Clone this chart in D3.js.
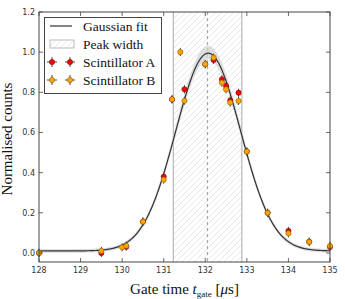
<!DOCTYPE html>
<html>
<head>
<meta charset="utf-8">
<script src="https://cdn.jsdelivr.net/npm/d3@7"></script>
<style>
  body { margin: 0; background: #fff; }
  svg { display: block; }
</style>
</head>
<body>
<script>
// data
var timesA = [128, 129.5, 130.1, 130.5, 131, 131.2, 131.5, 132, 132.2, 132.4, 132.5, 132.6, 132.8, 133, 133.5, 134, 134.5, 135];
var countsA = [0.0, 0.0, 0.031, 0.156, 0.38, 0.765, 0.815, 0.94, 0.961, 0.865, 0.832, 0.76, 0.798, 0.505, 0.2, 0.11, 0.056, 0.03];
var timesB = [128, 129.5, 130, 130.1, 130.5, 131, 131.2, 131.4, 131.5, 132, 132.2, 132.4, 132.5, 132.6, 132.8, 133, 133.5, 134, 134.5, 135];
var countsB = [0.0, 0.01, 0.028, 0.036, 0.156, 0.365, 0.765, 1.0, 0.758, 0.94, 0.973, 0.848, 0.815, 0.749, 0.757, 0.505, 0.2, 0.098, 0.055, 0.035];
var yErr = 0.02;
var xErr = 0.03;

// gaussian fit parameters
var fitAmp = 0.985, fitCentre = 132.07, fitSigma = 0.78, fitOffset = 0.01;
var peakEdges = [131.23, 132.88];
var peakCentre = 132.05;

var xTicks = [128, 129, 130, 131, 132, 133, 134, 135];
var yTicks = [0.0, 0.2, 0.4, 0.6, 0.8, 1.0, 1.2];

var W = 345, H = 299;
var pLeft = 39, pRight = 330, pTop = 12, pBottom = 262;

var svg = d3.select('body').append('svg')
  .attr('width', W)
  .attr('height', H);

var x = d3.scaleLinear().domain([128, 135]).range([pLeft, pRight]);
var y = d3.scaleLinear().domain([-0.045, 1.2]).range([pBottom, pTop]);

// hatch pattern for peak width
var defs = svg.append('defs');
var pat = defs.append('pattern')
  .attr('id', 'hatch')
  .attr('patternUnits', 'userSpaceOnUse')
  .attr('width', 6).attr('height', 6);
pat.append('path')
  .attr('d', 'M0,6 L6,0 M-1,1 L1,-1 M5,7 L7,5')
  .attr('stroke', '#e0e0e0')
  .attr('stroke-width', 0.8);

defs.append('clipPath').attr('id', 'clip')
  .append('rect')
  .attr('x', pLeft).attr('y', pTop)
  .attr('width', pRight - pLeft).attr('height', pBottom - pTop);

var plot = svg.append('g').attr('clip-path', 'url(#clip)');

// peak width region
plot.append('rect')
  .attr('x', x(peakEdges[0]))
  .attr('y', pTop)
  .attr('width', x(peakEdges[1]) - x(peakEdges[0]))
  .attr('height', pBottom - pTop)
  .attr('fill', 'url(#hatch)');
peakEdges.forEach(function (t) {
  plot.append('line')
    .attr('x1', x(t)).attr('x2', x(t))
    .attr('y1', pTop).attr('y2', pBottom)
    .attr('stroke', '#aaa')
    .attr('stroke-width', 1);
});
plot.append('line')
  .attr('x1', x(peakCentre)).attr('x2', x(peakCentre))
  .attr('y1', pTop).attr('y2', pBottom)
  .attr('stroke', '#999')
  .attr('stroke-width', 1)
  .attr('stroke-dasharray', '3,3');

// gaussian fit + band
function gauss(t) {
  return fitOffset + fitAmp * Math.exp(-Math.pow(t - fitCentre, 2) / (2 * fitSigma * fitSigma));
}
var fitTimes = d3.range(128, 135.001, 0.02);

var band = d3.area()
  .x(function (t) { return x(t); })
  .y0(function (t) { var g = gauss(t); return y(g - 0.009 - 0.022 * (g - fitOffset)); })
  .y1(function (t) { var g = gauss(t); return y(g + 0.009 + 0.028 * (g - fitOffset)); });
plot.append('path')
  .attr('d', band(fitTimes))
  .attr('fill', '#d2d2d2')
  .attr('opacity', 0.75);

var line = d3.line()
  .x(function (t) { return x(t); })
  .y(function (t) { return y(gauss(t)); });
plot.append('path')
  .attr('d', line(fitTimes))
  .attr('fill', 'none')
  .attr('stroke', '#333')
  .attr('stroke-width', 1.2);

// error bar points
function drawSeries(times, counts, fill, edge) {
  var g = svg.append('g');
  times.forEach(function (t, i) {
    var v = counts[i];
    g.append('line')
      .attr('x1', x(t)).attr('x2', x(t))
      .attr('y1', y(v - yErr)).attr('y2', y(v + yErr))
      .attr('stroke', '#444').attr('stroke-width', 1);
    g.append('line')
      .attr('x1', x(t - xErr)).attr('x2', x(t + xErr))
      .attr('y1', y(v)).attr('y2', y(v))
      .attr('stroke', '#444').attr('stroke-width', 1);
    g.append('circle')
      .attr('cx', x(t)).attr('cy', y(v))
      .attr('r', 2.6)
      .attr('fill', fill)
      .attr('stroke', edge)
      .attr('stroke-width', 0.6);
  });
}
drawSeries(timesA, countsA, '#ff0000', '#8b0000');
drawSeries(timesB, countsB, '#ffa500', '#8a5a00');

// frame and ticks
svg.append('rect')
  .attr('x', pLeft).attr('y', pTop)
  .attr('width', pRight - pLeft).attr('height', pBottom - pTop)
  .attr('fill', 'none')
  .attr('stroke', '#444')
  .attr('stroke-width', 1);

var tickG = svg.append('g').attr('stroke', '#444').attr('stroke-width', 0.8);
xTicks.forEach(function (t) {
  tickG.append('line').attr('x1', x(t)).attr('x2', x(t)).attr('y1', pBottom).attr('y2', pBottom - 4);
  tickG.append('line').attr('x1', x(t)).attr('x2', x(t)).attr('y1', pTop).attr('y2', pTop + 4);
});
yTicks.forEach(function (v) {
  tickG.append('line').attr('x1', pLeft).attr('x2', pLeft + 4).attr('y1', y(v)).attr('y2', y(v));
  tickG.append('line').attr('x1', pRight).attr('x2', pRight - 4).attr('y1', y(v)).attr('y2', y(v));
});

var tickFont = 'DejaVu Sans, sans-serif';
svg.append('g').selectAll('text')
  .data(xTicks).enter().append('text')
  .attr('x', function (d) { return x(d); })
  .attr('y', pBottom + 11)
  .attr('text-anchor', 'middle')
  .attr('font-family', tickFont)
  .attr('font-size', 8)
  .attr('fill', '#333')
  .text(function (d) { return d; });
svg.append('g').selectAll('text')
  .data(yTicks).enter().append('text')
  .attr('x', pLeft - 4)
  .attr('y', function (d) { return y(d) + 3; })
  .attr('text-anchor', 'end')
  .attr('font-family', tickFont)
  .attr('font-size', 8)
  .attr('fill', '#333')
  .text(function (d) { return d.toFixed(1); });

// axis labels
var serif = 'Liberation Serif, DejaVu Serif, serif';
var xl = svg.append('text')
  .attr('x', (pLeft + pRight) / 2)
  .attr('y', 294)
  .attr('text-anchor', 'middle')
  .attr('font-family', serif)
  .attr('font-size', 15)
  .attr('fill', '#111');
xl.append('tspan').text('Gate time ');
xl.append('tspan').attr('font-style', 'italic').text('t');
xl.append('tspan').attr('font-size', 9).attr('dy', 3).text('gate');
xl.append('tspan').attr('dy', -3).text(' [');
xl.append('tspan').attr('font-style', 'italic').text('μ');
xl.append('tspan').text('s]');

svg.append('text')
  .attr('transform', 'translate(12,' + ((pTop + pBottom) / 2 + 2) + ') rotate(-90)')
  .attr('text-anchor', 'middle')
  .attr('font-family', serif)
  .attr('font-size', 15)
  .attr('fill', '#111')
  .text('Normalised counts');

// legend
var leg = svg.append('g');
leg.append('rect')
  .attr('x', 44.5).attr('y', 17.5)
  .attr('width', 117).attr('height', 76)
  .attr('fill', '#fff')
  .attr('stroke', '#444')
  .attr('stroke-width', 1);
var rowY = [26, 44, 62, 80];
var labels = ['Gaussian fit', 'Peak width', 'Scintillator A', 'Scintillator B'];
leg.append('line')
  .attr('x1', 50).attr('x2', 72)
  .attr('y1', rowY[0]).attr('y2', rowY[0])
  .attr('stroke', '#333').attr('stroke-width', 1.2);
leg.append('rect')
  .attr('x', 50).attr('y', rowY[1] - 4)
  .attr('width', 24).attr('height', 8)
  .attr('fill', 'url(#hatch)')
  .attr('stroke', '#bbb')
  .attr('stroke-width', 1);
[['#ff0000', '#8b0000'], ['#ffa500', '#8a5a00']].forEach(function (c, k) {
  var yy = rowY[2 + k];
  [52, 70].forEach(function (xx) {
    leg.append('line').attr('x1', xx - 5).attr('x2', xx + 5).attr('y1', yy).attr('y2', yy)
      .attr('stroke', '#444').attr('stroke-width', 1);
    leg.append('line').attr('x1', xx).attr('x2', xx).attr('y1', yy - 5).attr('y2', yy + 5)
      .attr('stroke', '#444').attr('stroke-width', 1);
    leg.append('circle').attr('cx', xx).attr('cy', yy).attr('r', 2.6)
      .attr('fill', c[0]).attr('stroke', c[1]).attr('stroke-width', 0.6);
  });
});
leg.selectAll('text.lab')
  .data(labels).enter().append('text')
  .attr('class', 'lab')
  .attr('x', 83)
  .attr('y', function (d, i) { return rowY[i] + 4.5; })
  .attr('font-family', serif)
  .attr('font-size', 13.5)
  .attr('fill', '#111')
  .text(function (d) { return d; });
</script>
</body>
</html>
